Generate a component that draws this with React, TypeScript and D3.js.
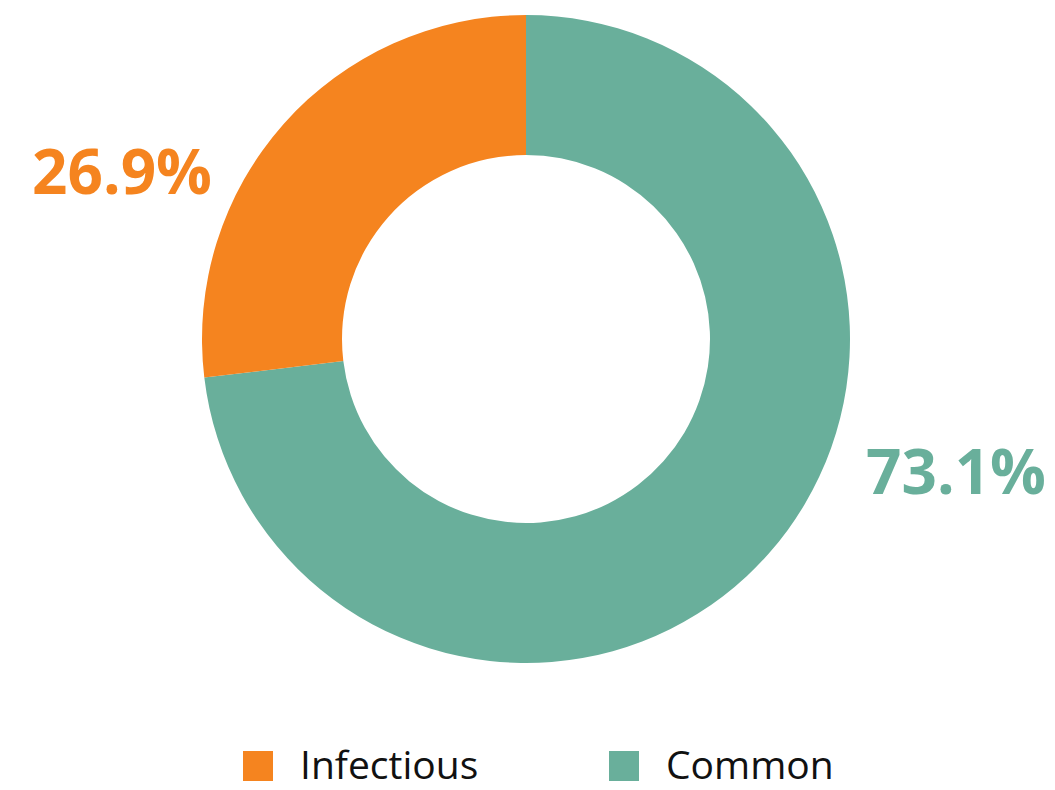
import React from "react";
import * as d3 from "d3";

const categories = ["Infectious", "Common"];
const values = [26.9, 73.1];
const colors = ["#F5841F", "#69AF9B"];
const labels = ["26.9%", "73.1%"];

export default function App() {
  const width = 1055;
  const height = 790;
  const cx = 526;
  const cy = 339;
  const outerR = 324;
  const innerR = 184;

  // Common drawn first clockwise from top, Infectious fills the remainder
  const order = [1, 0];
  const pie = d3
    .pie<number>()
    .sort(null)
    .value((i) => values[i]);
  const arcs = pie(order);
  const arcGen = d3.arc<d3.PieArcDatum<number>>().innerRadius(innerR).outerRadius(outerR);

  const labelPos = [
    { x: 122, y: 194 },
    { x: 956, y: 494 },
  ];

  const legendX = [243, 609];

  return (
    <svg
      width={width}
      height={height}
      style={{ position: "absolute", left: 0, top: 0, fontFamily: "'Open Sans', 'Noto Sans', sans-serif" }}
    >
      <g transform={`translate(${cx},${cy})`}>
        {arcs.map((a) => (
          <path key={a.data} d={arcGen(a) || ""} fill={colors[a.data]} />
        ))}
      </g>
      {labels.map((l, i) => (
        <text
          key={l}
          x={labelPos[i].x}
          y={labelPos[i].y}
          textAnchor="middle"
          fontSize={62}
          fontWeight={700}
          fill={colors[i]}
        >
          {l}
        </text>
      ))}
      {categories.map((c, i) => (
        <g key={c}>
          <rect x={legendX[i]} y={751} width={30} height={30} fill={colors[i]} />
          <text x={legendX[i] + 57} y={779} fontSize={39} fill="#111">
            {c}
          </text>
        </g>
      ))}
    </svg>
  );
}
